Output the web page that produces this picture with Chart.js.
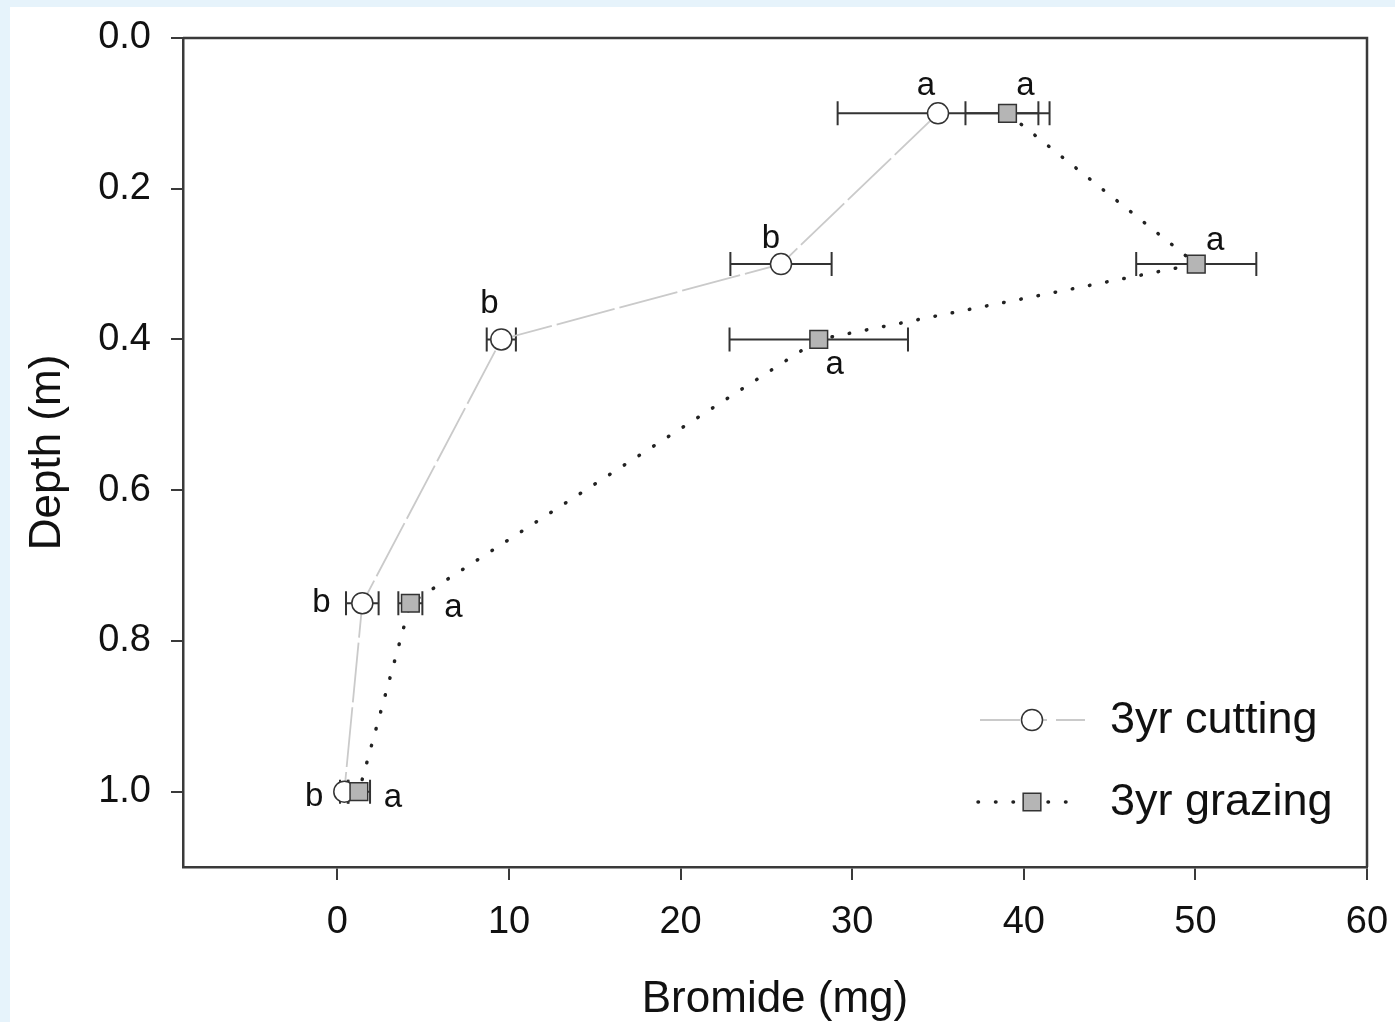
<!DOCTYPE html>
<html>
<head>
<meta charset="utf-8">
<script src="https://cdn.jsdelivr.net/npm/chart.js@4.4.1/dist/chart.umd.min.js"></script>
<style>
  html, body { margin: 0; padding: 0; background: #e6f3fb; }
  canvas { display: block; }
</style>
</head>
<body>
<canvas id="depthChart" width="1395" height="1022"></canvas>
<script>
// depth of each sample (m)
const depths = [0.1, 0.3, 0.4, 0.75, 1.0];

// 3yr cutting: mean bromide and error (mg)
const cutMean = [35.0, 25.85, 9.55, 1.45, 0.4];
const cutErr = [5.85, 2.95, 0.85, 0.95, 0.25];
const cutLetters = ['a', 'b', 'b', 'b', 'b'];

// 3yr grazing
const grazMean = [39.05, 50.05, 28.05, 4.25, 1.25];
const grazErr = [2.45, 3.5, 5.2, 0.7, 0.65];
const grazLetters = ['a', 'a', 'a', 'a', 'a'];

const xTicks = [0, 10, 20, 30, 40, 50, 60];
const yTicks = [0.0, 0.2, 0.4, 0.6, 0.8, 1.0];

// where the letters sit relative to each point (px)
const cutLetterOffsets = [[-12, -18], [-10, -16], [-12, -26], [-41, 9], [-30, 14]];
const grazLetterOffsets = [[18, -18], [19, -14], [16, 35], [43, 14], [34, 15]];

const FONT = '"Liberation Sans", Arial, sans-serif';
const INK = '#111';
const AXIS = '#3a3a3a';

function toPoints(means) {
    return means.map((m, i) => ({ x: m, y: depths[i] }));
}

// pale frame round the figure
const framePlugin = {
    id: 'frame',
    beforeDraw(chart) {
        const ctx = chart.ctx;
        ctx.save();
        ctx.fillStyle = '#e6f3fb';
        ctx.fillRect(0, 0, chart.width, chart.height);
        ctx.fillStyle = '#ffffff';
        ctx.fillRect(10, 7, chart.width - 10, chart.height - 7);
        ctx.restore();
    },
    afterDraw(chart) {
        // top and right edges of the box
        const { left, right, top, bottom } = chart.chartArea;
        const ctx = chart.ctx;
        ctx.save();
        ctx.strokeStyle = AXIS;
        ctx.lineWidth = 2.5;
        ctx.beginPath();
        ctx.moveTo(left, top);
        ctx.lineTo(right, top);
        ctx.lineTo(right, bottom);
        ctx.stroke();
        ctx.restore();
    }
};

// horizontal error bars
const errorBarPlugin = {
    id: 'errorBars',
    beforeDatasetsDraw(chart) {
        const ctx = chart.ctx;
        const xs = chart.scales.x, ys = chart.scales.y;
        const sets = [[cutMean, cutErr], [grazMean, grazErr]];
        ctx.save();
        ctx.strokeStyle = '#333';
        ctx.lineWidth = 2;
        sets.forEach(([means, errs]) => {
            means.forEach((m, i) => {
                const y = ys.getPixelForValue(depths[i]);
                const x0 = xs.getPixelForValue(m - errs[i]);
                const x1 = xs.getPixelForValue(m + errs[i]);
                ctx.beginPath();
                ctx.moveTo(x0, y); ctx.lineTo(x1, y);
                ctx.moveTo(x0, y - 12); ctx.lineTo(x0, y + 12);
                ctx.moveTo(x1, y - 12); ctx.lineTo(x1, y + 12);
                ctx.stroke();
            });
        });
        ctx.restore();
    }
};

// significance letters and the legend
const annotatePlugin = {
    id: 'annotate',
    afterDatasetsDraw(chart) {
        const ctx = chart.ctx;
        const xs = chart.scales.x, ys = chart.scales.y;
        ctx.save();
        ctx.fillStyle = INK;
        ctx.font = '33px ' + FONT;
        ctx.textAlign = 'center';
        ctx.textBaseline = 'alphabetic';
        const groups = [
            [cutMean, cutLetters, cutLetterOffsets],
            [grazMean, grazLetters, grazLetterOffsets]
        ];
        groups.forEach(([means, letters, offs]) => {
            means.forEach((m, i) => {
                const x = xs.getPixelForValue(m) + offs[i][0];
                const y = ys.getPixelForValue(depths[i]) + offs[i][1];
                ctx.fillText(letters[i], x, y);
            });
        });

        // legend, bottom right inside the box
        const rows = [
            { ds: chart.data.datasets[1], y: 720, x0: 980, x1: 1085 },
            { ds: chart.data.datasets[0], y: 802, x0: 978, x1: 1075 }
        ];
        rows.forEach(r => {
            const ds = r.ds;
            ctx.save();
            ctx.strokeStyle = ds.borderColor;
            ctx.lineWidth = ds.borderWidth;
            ctx.lineCap = ds.borderCapStyle || 'butt';
            ctx.setLineDash(ds.legendDash || ds.borderDash || []);
            ctx.beginPath();
            ctx.moveTo(r.x0, r.y);
            ctx.lineTo(r.x1, r.y);
            ctx.stroke();
            ctx.restore();
            ctx.save();
            ctx.fillStyle = ds.pointBackgroundColor;
            ctx.strokeStyle = ds.pointBorderColor;
            ctx.lineWidth = ds.pointBorderWidth;
            ctx.beginPath();
            if (ds.pointStyle === 'rect') {
                const s = ds.pointRadius * Math.SQRT1_2;
                ctx.rect(1032 - s, r.y - s, 2 * s, 2 * s);
            } else {
                ctx.arc(1032, r.y, ds.pointRadius, 0, Math.PI * 2);
            }
            ctx.fill();
            ctx.stroke();
            ctx.restore();
            ctx.fillStyle = INK;
            ctx.font = '45px ' + FONT;
            ctx.textAlign = 'left';
            ctx.textBaseline = 'middle';
            ctx.fillText(ds.label, 1110, r.y + 1);
        });
        ctx.restore();
    }
};

const ctx = document.getElementById('depthChart').getContext('2d');
new Chart(ctx, {
    type: 'scatter',
    data: {
        datasets: [
            {
                label: '3yr grazing',
                data: toPoints(grazMean),
                showLine: true,
                borderColor: '#222',
                borderWidth: 3.5,
                borderDash: [0.5, 17],
                borderCapStyle: 'round',
                pointStyle: 'rect',
                pointRadius: 12.5,
                pointBackgroundColor: '#b5b5b5',
                pointBorderColor: '#333',
                pointBorderWidth: 1.5,
                order: 1
            },
            {
                label: '3yr cutting',
                data: toPoints(cutMean),
                showLine: true,
                borderColor: '#cacaca',
                borderWidth: 1.8,
                borderDash: [60, 5],
                legendDash: [40, 9, 18, 9],
                pointStyle: 'circle',
                pointRadius: 10.5,
                pointBackgroundColor: '#ffffff',
                pointBorderColor: '#333',
                pointBorderWidth: 1.5,
                order: 2
            }
        ]
    },
    options: {
        responsive: false,
        animation: false,
        events: [],
        layout: {
            padding: { top: 38, right: 28, left: 0, bottom: 0 }
        },
        plugins: {
            legend: { display: false },
            tooltip: { enabled: false }
        },
        scales: {
            x: {
                type: 'linear',
                position: 'bottom',
                min: -9,
                max: 60,
                afterBuildTicks: s => { s.ticks = xTicks.map(v => ({ value: v })); },
                afterFit: s => {
                    s.height = 1022 - 867;
                    s.paddingLeft = 0;
                    s.paddingRight = 0;
                },
                ticks: {
                    color: INK,
                    padding: 20,
                    font: { family: FONT, size: 38 },
                    callback: v => String(v)
                },
                grid: {
                    drawOnChartArea: false,
                    drawTicks: true,
                    tickLength: 13,
                    color: AXIS,
                    lineWidth: 2
                },
                border: { color: AXIS, width: 2.5 },
                title: {
                    display: true,
                    text: 'Bromide (mg)',
                    color: INK,
                    font: { family: FONT, size: 44, lineHeight: 1.0 },
                    padding: { top: 0, bottom: 0 }
                }
            },
            y: {
                type: 'linear',
                reverse: true,
                min: 0,
                max: 1.1,
                afterBuildTicks: s => { s.ticks = yTicks.map(v => ({ value: v })); },
                afterFit: s => {
                    s.width = 183;
                    s.paddingTop = 0;
                    s.paddingBottom = 0;
                },
                ticks: {
                    color: INK,
                    padding: 20,
                    font: { family: FONT, size: 38 },
                    callback: v => Number(v).toFixed(1)
                },
                grid: {
                    drawOnChartArea: false,
                    drawTicks: true,
                    tickLength: 12,
                    color: AXIS,
                    lineWidth: 2
                },
                border: { color: AXIS, width: 2.5 },
                title: {
                    display: true,
                    text: 'Depth (m)',
                    color: INK,
                    font: { family: FONT, size: 44 },
                    padding: { top: 21, bottom: 0 }
                }
            }
        }
    },
    plugins: [framePlugin, errorBarPlugin, annotatePlugin]
});
</script>
</body>
</html>
